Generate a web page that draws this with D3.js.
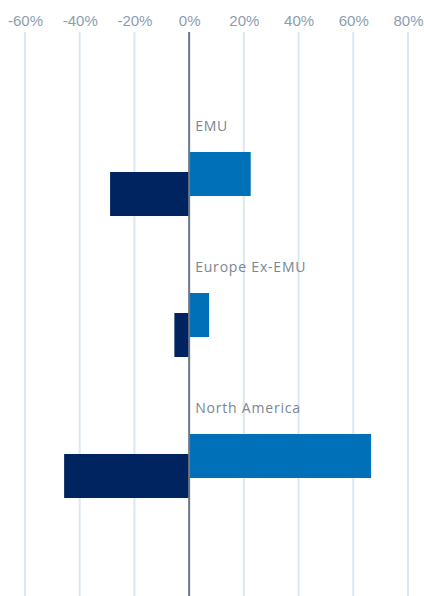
<!DOCTYPE html>
<html lang="en">
<head>
  <meta charset="UTF-8">
  <title>Regional bars</title>
  <style>
    body {
      margin: 0;
      background: #ffffff;
      font-family: "Open Sans", Arial, sans-serif;
    }
    .tick text {
      fill: #8d9db0;
      font-size: 15px;
    }
    .cat-label {
      fill: #7b8593;
      font-size: 14px;
      letter-spacing: 0.8px;
    }
  </style>
</head>
<body>
  <svg id="chart"></svg>

  <script src="https://d3js.org/d3.v7.min.js"></script>
  <script>
    // data
    const categories = ["EMU", "Europe Ex-EMU", "North America"];
    const seriesA = [22.5, 7.3, 66.5];     // light blue, upper bar
    const seriesB = [-28.9, -5.4, -45.7];  // navy, lower bar
    const xTicks = [-60, -40, -20, 0, 20, 40, 60, 80];

    const width = 424, height = 596;
    const svg = d3.select("#chart").attr("width", width).attr("height", height);

    const x = d3.scaleLinear().domain([-60, 80]).range([25, 408]);
    const y = d3.scaleBand().domain(categories).range([110, 533]);

    // grid
    svg.append("g").attr("class", "grid")
      .selectAll("line")
      .data(xTicks.filter(d => d !== 0))
      .enter()
      .append("line")
      .attr("x1", d => x(d)).attr("x2", d => x(d))
      .attr("y1", 32).attr("y2", height)
      .attr("stroke", "#dde7f0")
      .attr("stroke-width", 2);

    // axis labels on top
    const axis = svg.append("g")
      .attr("transform", "translate(0,26)")
      .call(d3.axisTop(x).tickValues(xTicks).tickSize(0).tickPadding(0)
        .tickFormat(d => (d < 0 ? "-" + Math.abs(d) : d) + "%"));
    axis.select(".domain").remove();

    const bars = svg.append("g");

    bars.selectAll("rect.a")
      .data(seriesA)
      .enter()
      .append("rect")
      .attr("class", "a")
      .attr("x", d => x(Math.min(0, d)))
      .attr("width", d => Math.abs(x(d) - x(0)))
      .attr("y", (d, i) => y(categories[i]) + 42)
      .attr("height", 44)
      .attr("fill", "#0070b9");

    bars.selectAll("rect.b")
      .data(seriesB)
      .enter()
      .append("rect")
      .attr("class", "b")
      .attr("x", d => x(Math.min(0, d)))
      .attr("width", d => Math.abs(x(d) - x(0)))
      .attr("y", (d, i) => y(categories[i]) + 62)
      .attr("height", 44)
      .attr("fill", "#00245f");

    svg.append("g").selectAll("text")
      .data(categories)
      .enter()
      .append("text")
      .attr("class", "cat-label")
      .attr("x", x(0) + 6)
      .attr("y", d => y(d) + 21)
      .text(d => d);

    // zero line
    svg.append("line")
      .attr("x1", x(0)).attr("x2", x(0))
      .attr("y1", 32).attr("y2", height)
      .attr("stroke", "#6a7888")
      .attr("stroke-width", 2);
  </script>
</body>
</html>
